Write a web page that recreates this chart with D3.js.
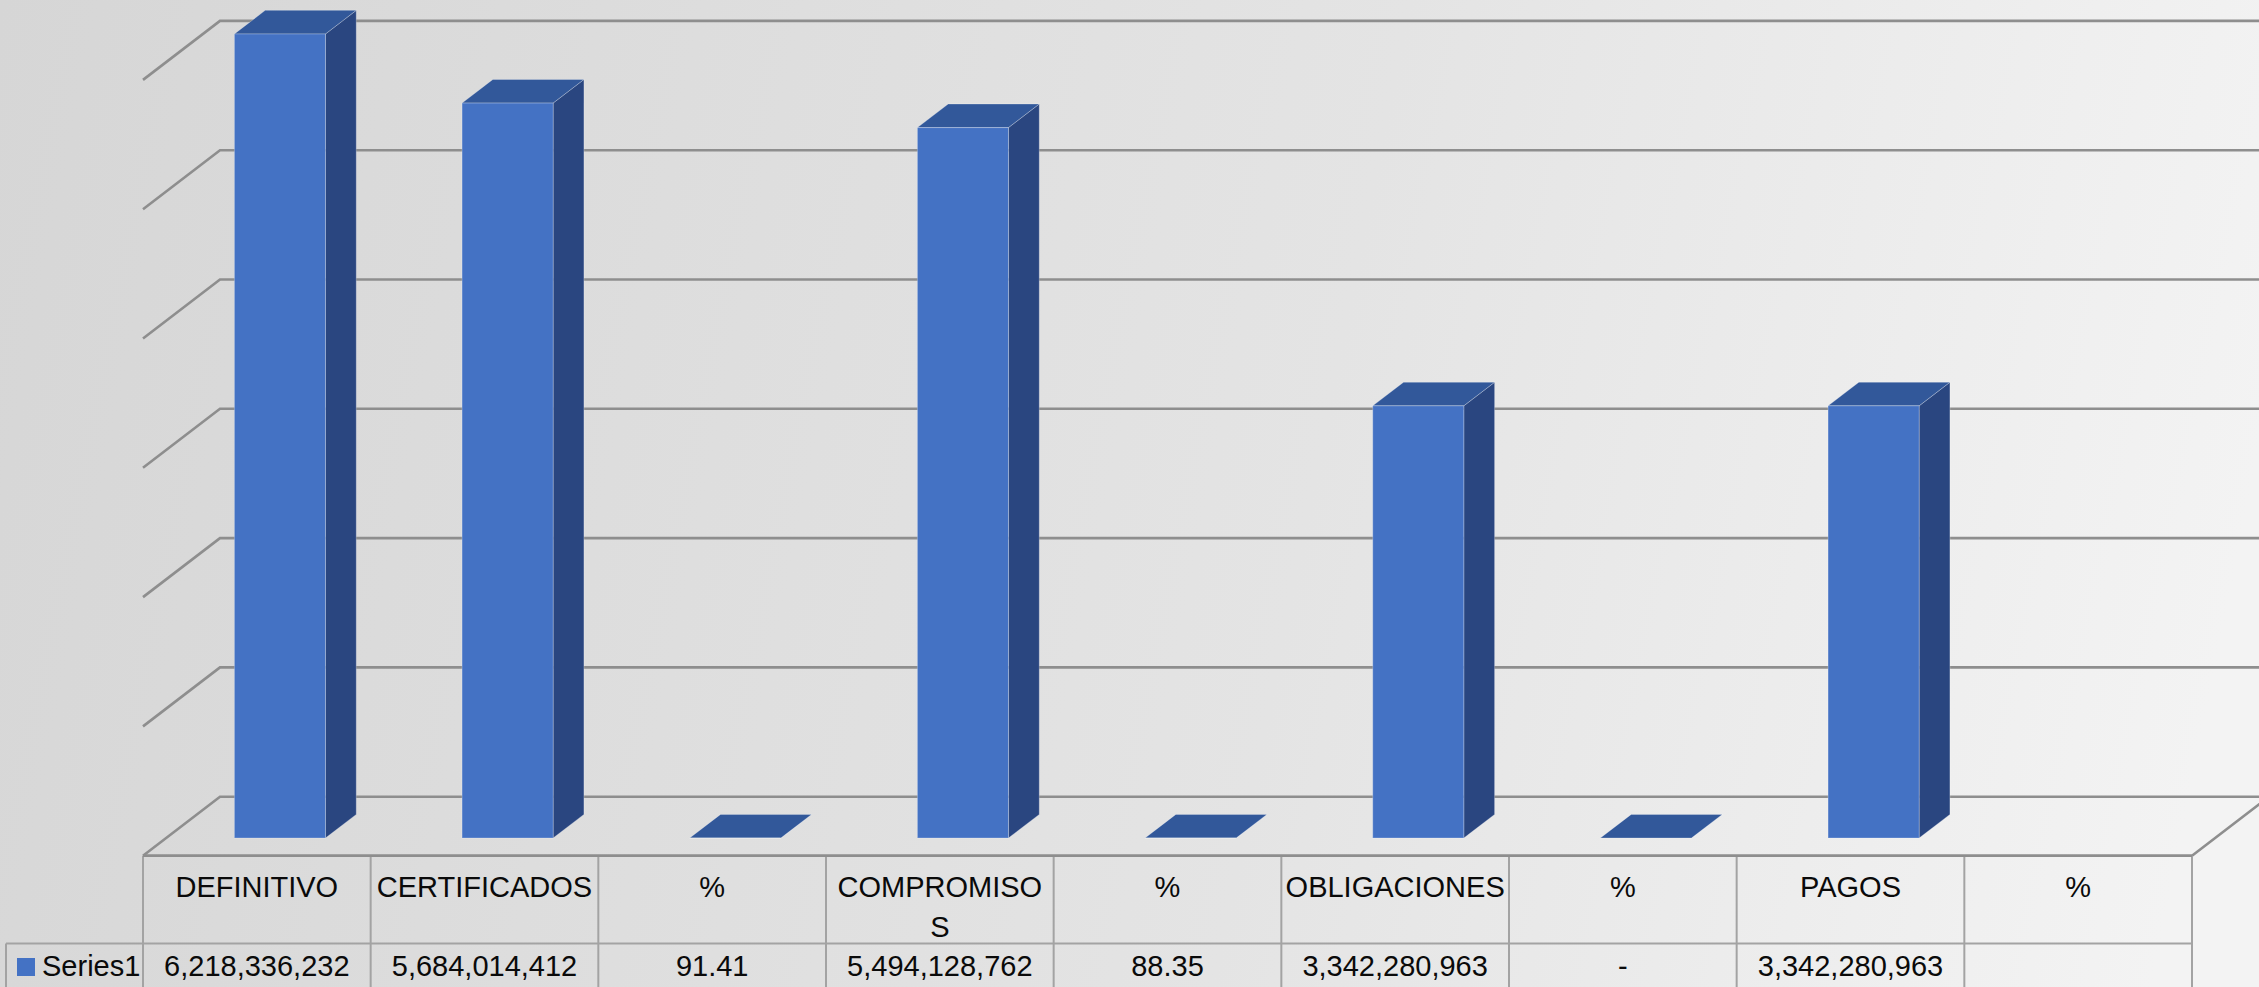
<!DOCTYPE html>
<html>
<head>
<meta charset="utf-8">
<script src="https://cdn.jsdelivr.net/npm/d3@7"></script>
<style>
  html, body { margin: 0; padding: 0; overflow: hidden; background: #e0e0e0; }
  svg { display: block; }
  text { font-family: "Liberation Sans", Arial, sans-serif; fill: #0a0a0a; }
</style>
</head>
<body>
<svg id="chart" width="2259" height="987"></svg>
<script>
// ---------- data ----------
const categories = ["DEFINITIVO", "CERTIFICADOS", "%", "COMPROMISOS", "%", "OBLIGACIONES", "%", "PAGOS", "%"];
// header cell text as it wraps in the table (line breaks marked with \n)
const categoryCellText = ["DEFINITIVO", "CERTIFICADOS", "%", "COMPROMISO\nS", "%", "OBLIGACIONES", "%", "PAGOS", "%"];
const seriesName = "Series1";
const seriesValues = [6218336232, 5684014412, 91.41, 5494128762, 88.35, 3342280963, 0, 3342280963, null];
const gridTicks = [0, 1e9, 2e9, 3e9, 4e9, 5e9, 6e9];

// ---------- layout ----------
const W = 2259, H = 987;
const tableLeft = 143, tableRight = 2192;
const floorFrontY = 855.7;
const depthDx = 77, depthDy = 59;
const headerBottom = 943.5;
const legendLeft = 6;

const svg = d3.select("#chart");

// background gradient
const defs = svg.append("defs");
const grad = defs.append("linearGradient").attr("id", "bg")
  .attr("gradientUnits", "userSpaceOnUse")
  .attr("x1", 0).attr("y1", 0).attr("x2", W).attr("y2", 450);
grad.append("stop").attr("offset", "0").attr("stop-color", "#d6d6d6");
grad.append("stop").attr("offset", "0.6").attr("stop-color", "#e4e4e4");
grad.append("stop").attr("offset", "1").attr("stop-color", "#f3f3f3");
svg.append("rect").attr("width", W).attr("height", H).attr("fill", "url(#bg)");

// scales
const x = d3.scaleBand().domain(d3.range(categories.length)).range([tableLeft, tableRight]).paddingInner(0).paddingOuter(0);
const y = d3.scaleLinear().domain([0, 6e9]).range([0, 6 * 129.3]); // height in px

// 3D projection: sx screen x at front, depth fraction d (0 front .. 1 back), value v
function P(sx, d, v) {
  return [sx + d * depthDx, floorFrontY - d * depthDy - y(v)];
}
const line = d3.line();

// ---------- walls / gridlines ----------
const gridG = svg.append("g");
gridTicks.forEach(t => {
  const a = P(tableLeft, 0, t), b = P(tableLeft, 1, t);
  gridG.append("path")
    .attr("d", line([a, b, [W + 20, b[1]]]))
    .attr("fill", "none").attr("stroke", "#8e8e8e").attr("stroke-width", 2.6);
});
// floor front and right edges
gridG.append("path")
  .attr("d", line([P(tableRight, 1, 0), P(tableRight, 0, 0), P(tableLeft, 0, 0)]))
  .attr("fill", "none").attr("stroke", "#8e8e8e").attr("stroke-width", 2.6);

// ---------- bars ----------
const frontColor = "#4472c4", sideColor = "#2a4680", topColor = "#32589a";
const bw = x.bandwidth() * 0.4;
const d0 = 0.3, d1 = 0.7;
const barG = svg.append("g");
seriesValues.forEach((v, i) => {
  if (v === null || v === undefined) return;
  const cx = x(i) + x.bandwidth() / 2;
  const x0 = cx - bw / 2, x1 = cx + bw / 2;
  const g = barG.append("g");
  g.append("path")
    .attr("d", line([P(x1, d0, 0), P(x1, d1, 0), P(x1, d1, v), P(x1, d0, v)]) + "Z")
    .attr("fill", sideColor).attr("stroke", "rgba(255,255,255,0.25)").attr("stroke-width", 1);
  g.append("path")
    .attr("d", line([P(x0, d0, v), P(x1, d0, v), P(x1, d1, v), P(x0, d1, v)]) + "Z")
    .attr("fill", topColor).attr("stroke", "rgba(255,255,255,0.25)").attr("stroke-width", 1);
  const tl = P(x0, d0, v), br = P(x1, d0, 0);
  g.append("rect")
    .attr("x", tl[0]).attr("y", tl[1])
    .attr("width", br[0] - tl[0]).attr("height", Math.max(0, br[1] - tl[1]))
    .attr("fill", frontColor).attr("stroke", "rgba(255,255,255,0.25)").attr("stroke-width", 1);
});

// ---------- data table ----------
const tblG = svg.append("g");
const tblStroke = "#a3a3a3";
d3.range(categories.length + 1).forEach(i => {
  const xx = i < categories.length ? x(i) : tableRight;
  tblG.append("line").attr("x1", xx).attr("x2", xx)
    .attr("y1", floorFrontY).attr("y2", H + 5)
    .attr("stroke", tblStroke).attr("stroke-width", 2);
});
tblG.append("line").attr("x1", legendLeft).attr("x2", tableRight)
  .attr("y1", headerBottom).attr("y2", headerBottom)
  .attr("stroke", tblStroke).attr("stroke-width", 2);
tblG.append("line").attr("x1", legendLeft).attr("x2", legendLeft)
  .attr("y1", headerBottom).attr("y2", H + 5)
  .attr("stroke", tblStroke).attr("stroke-width", 2);
tblG.append("line").attr("x1", tableLeft).attr("x2", tableRight)
  .attr("y1", floorFrontY).attr("y2", floorFrontY)
  .attr("stroke", "#8e8e8e").attr("stroke-width", 2.6);

const fontSize = 29;
categoryCellText.forEach((c, i) => {
  const cx = x(i) + x.bandwidth() / 2;
  const t = tblG.append("text").attr("x", cx).attr("y", 897)
    .attr("text-anchor", "middle").attr("font-size", fontSize);
  c.split("\n").forEach((ln, k) => {
    t.append("tspan").attr("x", cx).attr("dy", k === 0 ? 0 : 40).text(ln);
  });
});

const fmtBig = d3.format(",");
const fmtPct = d3.format(".2f");
function label(v) {
  if (v === null || v === undefined) return "";
  if (v === 0) return "-";
  return v >= 1000 ? fmtBig(v) : fmtPct(v);
}
seriesValues.forEach((v, i) => {
  tblG.append("text").attr("x", x(i) + x.bandwidth() / 2).attr("y", 976)
    .attr("text-anchor", "middle").attr("font-size", fontSize).text(label(v));
});

tblG.append("rect").attr("x", 17).attr("y", 958).attr("width", 18).attr("height", 18).attr("fill", frontColor);
tblG.append("text").attr("x", 42).attr("y", 976).attr("font-size", fontSize).text(seriesName);
</script>
</body>
</html>
